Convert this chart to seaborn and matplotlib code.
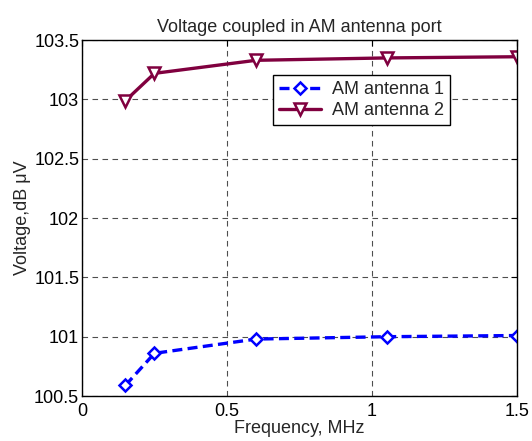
import numpy as np
import pandas as pd
import matplotlib
matplotlib.use('Agg')
import matplotlib.pyplot as plt
import seaborn as sns

# ── Data ────────────────────────────────────────────────────────────────────
freq_mhz = [0.15, 0.25, 0.6, 1.05, 1.5]
antenna1 = [100.59, 100.86, 100.98, 101.00, 101.01]
antenna2 = [102.99, 103.22, 103.33, 103.35, 103.36]
series_names = ['AM antenna 1', 'AM antenna 2']
x_ticks = [0, 0.5, 1, 1.5]
y_ticks = [100.5, 101, 101.5, 102, 102.5, 103, 103.5]

df = pd.DataFrame({
    'freq': freq_mhz * 2,
    'volt': antenna1 + antenna2,
    'series': [series_names[0]] * len(freq_mhz) + [series_names[1]] * len(freq_mhz),
})

sns.set_style('white')
plt.rcParams['font.family'] = ['Liberation Sans', 'DejaVu Sans']
FS = 13

fig = plt.figure(figsize=(5.32, 4.41), dpi=100)
ax = fig.add_axes([0.154, 0.102, 0.818, 0.807])

colors = ['#0000ff', '#80003f']
markers = ['D', 'v']
dashes = [(3, 1.6), ()]
sizes = [6.5, 9]
for i, name in enumerate(series_names):
    sub = df[df['series'] == name]
    sns.lineplot(data=sub, x='freq', y='volt', ax=ax, color=colors[i],
                 linewidth=2.4, marker=markers[i], markersize=sizes[i],
                 markerfacecolor='white', markeredgecolor=colors[i],
                 markeredgewidth=1.8, label=name, dashes=False)
    if dashes[i]:
        ax.lines[-1].set_dashes(dashes[i])

ax.set_xlim(0, 1.5)
ax.set_ylim(100.5, 103.5)
ax.set_xticks(x_ticks)
ax.set_xticklabels(['0', '0.5', '1', '1.5'])
ax.set_yticks(y_ticks)
ax.set_yticklabels(['100.5', '101', '101.5', '102', '102.5', '103', '103.5'])
ax.grid(True, color='#222222', linestyle=(0, (5, 4)), linewidth=0.8, alpha=0.8)
ax.tick_params(direction='in', length=4, width=0.8, colors='black',
               top=True, right=True, labelsize=FS, pad=2)
ax.tick_params(axis='x', pad=5)
for s in ax.spines.values():
    s.set_visible(True)
    s.set_color('black')
    s.set_linewidth(1.0)

ax.set_title('Voltage coupled in AM antenna port', fontsize=FS, pad=6)
ax.set_xlabel('Frequency, MHz', fontsize=FS, labelpad=0)
ax.set_ylabel('Voltage,dB \u03bcV', fontsize=FS, labelpad=2)

leg = ax.legend(loc='upper left', bbox_to_anchor=(0.439, 0.902),
                borderaxespad=0, fancybox=False, framealpha=1,
                edgecolor='black', handlelength=2.3, handletextpad=0.6,
                borderpad=0.35, labelspacing=0.2, fontsize=FS)
leg.get_frame().set_linewidth(1.0)

fig.savefig('out.png', dpi=100, facecolor='white')
